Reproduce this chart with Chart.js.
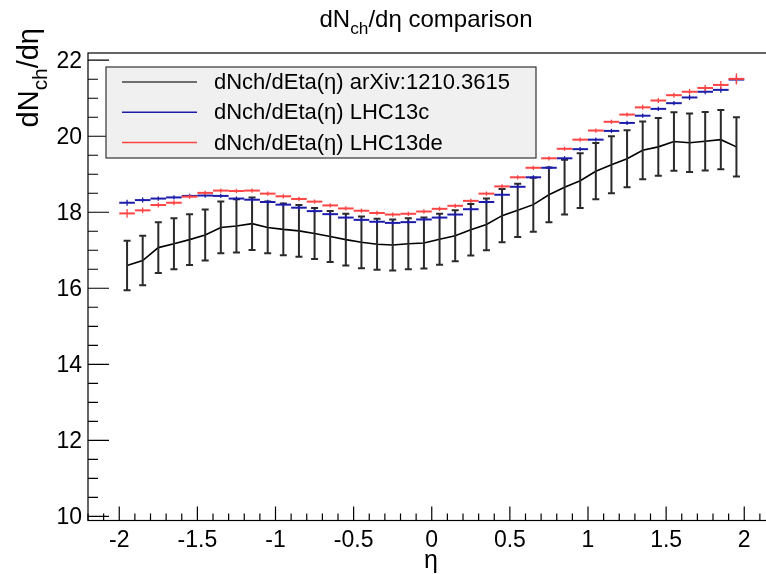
<!DOCTYPE html>
<html>
<head>
<meta charset="utf-8">
<script src="https://cdn.jsdelivr.net/npm/chart.js@4.4.1/dist/chart.umd.min.js"></script>
<style>
  html, body { margin: 0; padding: 0; background: #fff; overflow: hidden; }
  #wrap { width: 766px; height: 574px; overflow: hidden; }
</style>
</head>
<body>
<div id="wrap"><canvas id="chart" width="780" height="574"></canvas></div>
<script>
// bin centres in eta
const etaBins = [-1.95, -1.85, -1.75, -1.65, -1.55, -1.45, -1.35, -1.25, -1.15, -1.05,
                 -0.95, -0.85, -0.75, -0.65, -0.55, -0.45, -0.35, -0.25, -0.15, -0.05,
                  0.05,  0.15,  0.25,  0.35,  0.45,  0.55,  0.65,  0.75,  0.85,  0.95,
                  1.05,  1.15,  1.25,  1.35,  1.45,  1.55,  1.65,  1.75,  1.85,  1.95];
const binHalfWidth = 0.05;

// arXiv:1210.3615 reference
const refValues = [16.60, 16.73, 17.07, 17.17, 17.28, 17.40, 17.60, 17.64, 17.70, 17.60,
                   17.55, 17.51, 17.44, 17.36, 17.28, 17.21, 17.16, 17.14, 17.17, 17.19,
                   17.29, 17.38, 17.54, 17.68, 17.91, 18.05, 18.20, 18.46, 18.66, 18.83,
                   19.08, 19.25, 19.41, 19.63, 19.72, 19.86, 19.83, 19.87, 19.91, 19.72];
const refErrors = [0.65, 0.65, 0.67, 0.67, 0.67, 0.67, 0.68, 0.70, 0.69, 0.68,
                   0.68, 0.68, 0.67, 0.67, 0.68, 0.68, 0.67, 0.67, 0.67, 0.67,
                   0.67, 0.67, 0.68, 0.68, 0.70, 0.70, 0.71, 0.72, 0.72, 0.72,
                   0.74, 0.75, 0.75, 0.76, 0.76, 0.77, 0.77, 0.77, 0.78, 0.78];

// LHC13c
const lhc13cValues = [18.25, 18.32, 18.36, 18.39, 18.43, 18.44, 18.43, 18.36, 18.33, 18.27,
                      18.20, 18.12, 18.03, 17.95, 17.86, 17.80, 17.75, 17.72, 17.74, 17.81,
                      17.86, 17.94, 18.08, 18.27, 18.46, 18.67, 18.92, 19.17, 19.42, 19.66,
                      19.91, 20.14, 20.35, 20.54, 20.72, 20.87, 21.02, 21.17, 21.22, 21.49];
const lhc13cErrors = [0.05, 0.04, 0.03, 0.03, 0.03, 0.03, 0.03, 0.03, 0.03, 0.03,
                      0.03, 0.03, 0.03, 0.03, 0.03, 0.03, 0.03, 0.03, 0.03, 0.03,
                      0.03, 0.03, 0.03, 0.03, 0.03, 0.03, 0.03, 0.03, 0.03, 0.03,
                      0.03, 0.03, 0.03, 0.03, 0.03, 0.03, 0.04, 0.04, 0.05, 0.08];

// LHC13de
const lhc13deValues = [17.97, 18.05, 18.19, 18.25, 18.41, 18.51, 18.57, 18.56, 18.57, 18.49,
                       18.42, 18.35, 18.28, 18.18, 18.10, 18.04, 17.98, 17.94, 17.96, 18.02,
                       18.09, 18.17, 18.30, 18.49, 18.68, 18.92, 19.17, 19.42, 19.67, 19.91,
                       20.15, 20.38, 20.57, 20.76, 20.94, 21.08, 21.17, 21.27, 21.35, 21.51];
const lhc13deErrors = [0.09, 0.05, 0.04, 0.04, 0.03, 0.03, 0.03, 0.03, 0.03, 0.03,
                       0.03, 0.03, 0.03, 0.03, 0.03, 0.03, 0.03, 0.03, 0.03, 0.03,
                       0.03, 0.03, 0.03, 0.03, 0.03, 0.03, 0.03, 0.03, 0.03, 0.03,
                       0.03, 0.03, 0.03, 0.04, 0.04, 0.04, 0.05, 0.06, 0.08, 0.12];

const seriesLabels = ['dNch/dEta(\u03B7) arXiv:1210.3615', 'dNch/dEta(\u03B7) LHC13c', 'dNch/dEta(\u03B7) LHC13de'];
const xTickLabels = [-2, -1.5, -1, -0.5, 0, 0.5, 1, 1.5, 2];
const yTickLabels = [10, 12, 14, 16, 18, 20, 22];

const FONT = '"Liberation Sans", Arial, sans-serif';
const BLUE = '#1c1caa';
const RED = '#ff4444';

function drawParts(ctx, parts, x, y, size) {
  // text with subscripts, left aligned at x, baseline y
  let cx = x;
  parts.forEach(p => {
    const fs = p.sub ? size * 0.72 : size;
    ctx.font = fs + 'px ' + FONT;
    ctx.fillText(p.t, cx, p.sub ? y + size * 0.3 : y);
    cx += ctx.measureText(p.t).width;
  });
  return cx - x;
}
function partsWidth(ctx, parts, size) {
  let w = 0;
  parts.forEach(p => {
    ctx.font = (p.sub ? size * 0.72 : size) + 'px ' + FONT;
    w += ctx.measureText(p.t).width;
  });
  return w;
}

const rootStyle = {
  id: 'rootStyle',
  afterDatasetsDraw(chart) {
    const ctx = chart.ctx;
    const xs = chart.scales.x, ys = chart.scales.y;
    ctx.save();

    // reference error bars
    ctx.strokeStyle = '#2a2a2a';
    ctx.lineWidth = 2;
    etaBins.forEach((eta, i) => {
      const px = xs.getPixelForValue(eta);
      const top = ys.getPixelForValue(refValues[i] + refErrors[i]);
      const bot = ys.getPixelForValue(refValues[i] - refErrors[i]);
      ctx.beginPath();
      ctx.moveTo(px, top); ctx.lineTo(px, bot);
      ctx.moveTo(px - 3.5, top); ctx.lineTo(px + 3.5, top);
      ctx.moveTo(px - 3.5, bot); ctx.lineTo(px + 3.5, bot);
      ctx.stroke();
    });

    // horizontal bin markers for the two data periods
    const drawBins = (vals, errs, color) => {
      ctx.strokeStyle = color;
      etaBins.forEach((eta, i) => {
        const x0 = xs.getPixelForValue(eta - binHalfWidth);
        const x1 = xs.getPixelForValue(eta + binHalfWidth);
        const pc = xs.getPixelForValue(eta);
        const py = ys.getPixelForValue(vals[i]);
        ctx.lineWidth = 2;
        ctx.beginPath();
        ctx.moveTo(x0, py); ctx.lineTo(x1, py);
        ctx.stroke();
        ctx.lineWidth = 1.3;
        ctx.beginPath();
        ctx.moveTo(pc, ys.getPixelForValue(vals[i] + errs[i]) - 1);
        ctx.lineTo(pc, ys.getPixelForValue(vals[i] - errs[i]) + 1);
        ctx.stroke();
      });
    };
    drawBins(lhc13cValues, lhc13cErrors, BLUE);
    drawBins(lhc13deValues, lhc13deErrors, RED);
    ctx.restore();
  },
  afterDraw(chart) {
    const ctx = chart.ctx;
    const a = chart.chartArea;
    const xs = chart.scales.x, ys = chart.scales.y;
    ctx.save();

    // frame
    ctx.strokeStyle = '#000';
    ctx.lineWidth = 1.2;
    ctx.strokeRect(a.left, a.top, a.right - a.left, a.bottom - a.top);

    // x ticks (inside)
    ctx.beginPath();
    for (let k = -22; k <= 22; k++) {
      const v = k / 10;
      const px = xs.getPixelForValue(v);
      const major = k % 5 === 0;
      ctx.moveTo(px, a.bottom);
      ctx.lineTo(px, a.bottom - (major ? 14 : 7));
    }
    // y ticks (inside)
    for (let k = 20; k <= 44; k++) {
      const v = k / 2;
      const py = ys.getPixelForValue(v);
      const major = k % 4 === 0;
      ctx.moveTo(a.left, py);
      ctx.lineTo(a.left + (major ? 21 : 10), py);
    }
    ctx.stroke();

    // tick labels
    ctx.fillStyle = '#000';
    ctx.font = '23px ' + FONT;
    ctx.textAlign = 'center';
    ctx.textBaseline = 'middle';
    xTickLabels.forEach(v => {
      ctx.fillText(String(v), xs.getPixelForValue(v), 541);
    });
    ctx.textAlign = 'right';
    yTickLabels.forEach(v => {
      ctx.fillText(String(v), 82, ys.getPixelForValue(v) + 1);
    });

    // x title
    ctx.textAlign = 'center';
    ctx.font = '25px ' + FONT;
    ctx.fillText('\u03B7', 431, 561);

    // main title
    ctx.textAlign = 'left';
    ctx.textBaseline = 'alphabetic';
    const titleParts = [{ t: 'dN' }, { t: 'ch', sub: true }, { t: '/d\u03B7 comparison' }];
    const tw = partsWidth(ctx, titleParts, 24);
    drawParts(ctx, titleParts, 426 - tw / 2, 27, 24);

    // y title, rotated
    const yParts = [{ t: 'dN' }, { t: 'ch', sub: true }, { t: '/d\u03B7' }];
    const yw = partsWidth(ctx, yParts, 29);
    ctx.save();
    ctx.translate(38, 28 + yw);
    ctx.rotate(-Math.PI / 2);
    drawParts(ctx, yParts, 0, 0, 29);
    ctx.restore();

    // legend box
    const lx = 106, ly = 67, lw = 430, lh = 91;
    ctx.fillStyle = '#f0f0f0';
    ctx.fillRect(lx, ly, lw, lh);
    ctx.strokeStyle = '#333';
    ctx.lineWidth = 1.2;
    ctx.strokeRect(lx, ly, lw, lh);
    const legendColors = ['#444', BLUE, RED];
    ctx.font = '22px ' + FONT;
    ctx.textBaseline = 'middle';
    seriesLabels.forEach((lab, i) => {
      const yy = 82 + i * 30.3;
      ctx.strokeStyle = legendColors[i];
      ctx.lineWidth = 1.5;
      ctx.beginPath();
      ctx.moveTo(122, yy); ctx.lineTo(197, yy);
      ctx.stroke();
      ctx.fillStyle = '#000';
      ctx.fillText(lab, 214, yy + 1);
    });
    ctx.restore();
  }
};

const ctx = document.getElementById('chart').getContext('2d');
const chart = new Chart(ctx, {
  type: 'line',
  data: {
    datasets: [
      {
        label: seriesLabels[0],
        data: etaBins.map((x, i) => ({ x: x, y: refValues[i] })),
        borderColor: '#000',
        borderWidth: 1.6,
        pointRadius: 0,
        tension: 0
      },
      {
        label: seriesLabels[1],
        data: etaBins.map((x, i) => ({ x: x, y: lhc13cValues[i] })),
        borderColor: BLUE,
        showLine: false,
        pointRadius: 0
      },
      {
        label: seriesLabels[2],
        data: etaBins.map((x, i) => ({ x: x, y: lhc13deValues[i] })),
        borderColor: RED,
        showLine: false,
        pointRadius: 0
      }
    ]
  },
  options: {
    responsive: false,
    animation: false,
    devicePixelRatio: 1,
    layout: { padding: { left: 88, top: 53, right: 4.5, bottom: 53.5 } },
    scales: {
      x: { type: 'linear', min: -2.2, max: 2.2, display: false },
      y: { type: 'linear', min: 9.89, max: 22.19, display: false }
    },
    plugins: {
      legend: { display: false },
      tooltip: { enabled: false },
      title: { display: false }
    }
  },
  plugins: [rootStyle]
});
</script>
</body>
</html>
